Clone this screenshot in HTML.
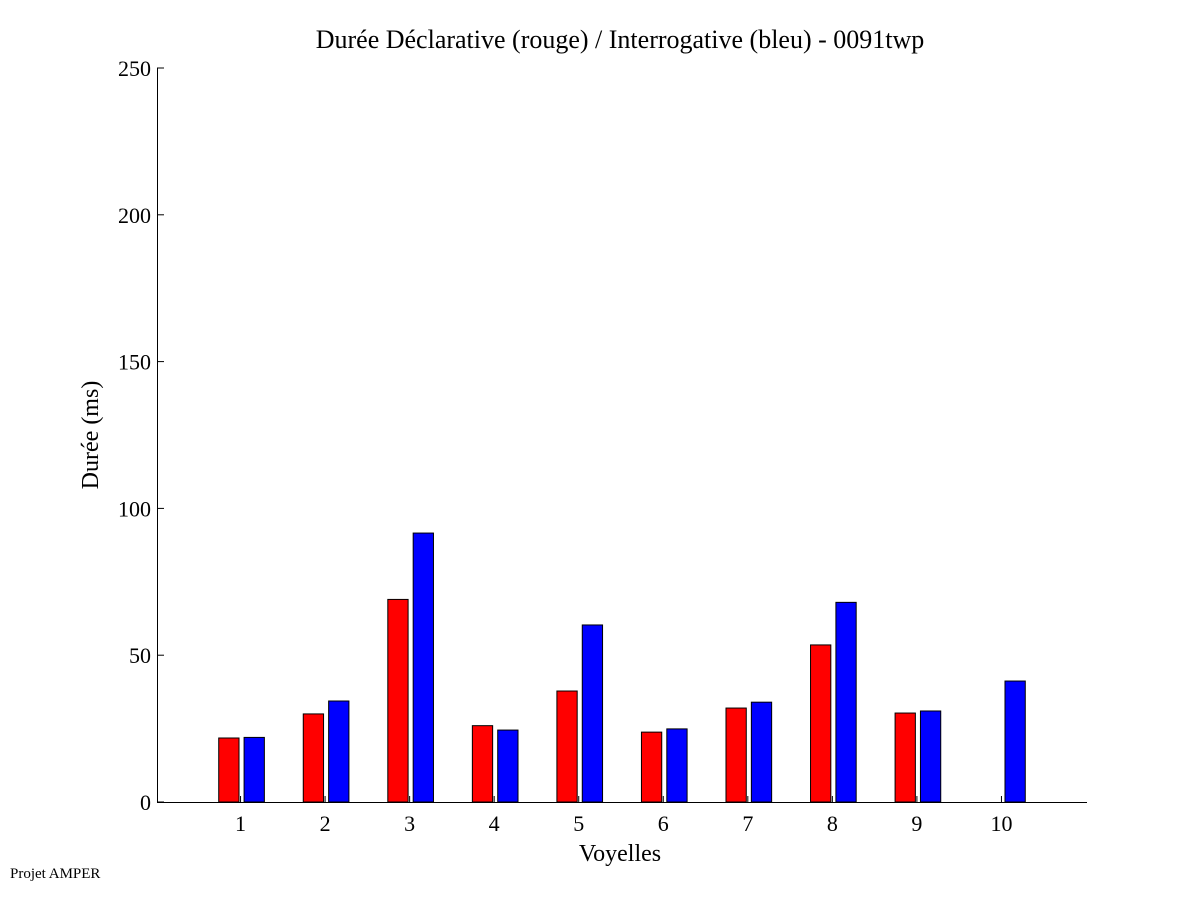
<!DOCTYPE html>
<html><head><meta charset="utf-8"><style>
html,body{margin:0;padding:0;background:#fff;}
svg text{font-family:"Liberation Serif",serif;fill:#000;}
</style></head><body>
<svg id="chart" width="1201" height="901" viewBox="0 0 1201 901" xmlns="http://www.w3.org/2000/svg">
<rect width="1201" height="901" fill="#fff"/>
<text x="620" y="48" font-size="26" text-anchor="middle">Durée Déclarative (rouge) / Interrogative (bleu) - 0091twp</text>
<text x="0" y="0" font-size="24" text-anchor="middle" transform="translate(98,435) rotate(-90)">Durée (ms)</text>
<text x="620" y="861" font-size="24" text-anchor="middle">Voyelles</text>
<text x="10" y="878" font-size="15">Projet AMPER</text>
<g id="bars"></g>
<g id="axes"></g>
</svg>
<script>
const categories = ["1","2","3","4","5","6","7","8","9","10"];
const declarativeValues = [21.8, 30, 69, 26, 37.8, 23.8, 32, 53.5, 30.3, 0];
const interrogativeValues = [22, 34.4, 91.6, 24.5, 60.3, 24.9, 34, 68, 31, 41.2];
const yTicks = [0, 50, 100, 150, 200, 250];

const NS = "http://www.w3.org/2000/svg";
const X0 = 157, X1 = 1087, Y0 = 802, Y1 = 68;
const xMin = 0, xMax = 11, yMin = 0, yMax = 250;
function xs(v){ return X0 + (v - xMin) / (xMax - xMin) * (X1 - X0); }
function ys(v){ return Y0 - (v - yMin) / (yMax - yMin) * (Y0 - Y1); }
function mk(tag, attrs){ const e = document.createElementNS(NS, tag); for (const k in attrs) e.setAttribute(k, attrs[k]); return e; }

const bars = document.getElementById("bars");
const axes = document.getElementById("axes");
const offset = 0.15, bw = 0.24;

categories.forEach((c, i) => {
  const pos = i + 1;
  const dv = declarativeValues[i];
  if (dv > 0) {
    const r = mk("rect", {x: xs(pos - offset - bw/2), y: ys(dv), width: xs(bw) - xs(0), height: ys(0) - ys(dv), fill: "#ff0000", stroke: "#000", "stroke-width": 1});
    
    
    bars.appendChild(r);
  }
  const iv = interrogativeValues[i];
  if (iv > 0) {
    const b = mk("rect", {x: xs(pos + offset - bw/2), y: ys(iv), width: xs(bw) - xs(0), height: ys(0) - ys(iv), fill: "#0000ff", stroke: "#000", "stroke-width": 1});
    
    
    bars.appendChild(b);
  }
  const t = mk("line", {x1: xs(pos) - 1, x2: xs(pos) - 1, y1: Y0, y2: Y0 - 6, stroke: "#000", "stroke-width": 1});
  
  
  axes.appendChild(t);
  const l = mk("text", {x: xs(pos) - 1, y: 831, "font-size": 22, "text-anchor": "middle"});
  l.textContent = c;
  
  
  axes.appendChild(l);
});

yTicks.forEach(v => {
  const t = mk("line", {x1: X0, x2: X0 + 7, y1: ys(v), y2: ys(v), stroke: "#000", "stroke-width": 1});
  
  
  axes.appendChild(t);
  const l = mk("text", {x: X0 - 6, y: ys(v) + 8, "font-size": 22, "text-anchor": "end"});
  l.textContent = v;
  
  
  axes.appendChild(l);
});

const xa = mk("line", {x1: X0, x2: X1, y1: Y0 + 0.5, y2: Y0 + 0.5, stroke: "#000", "stroke-width": 1});


axes.appendChild(xa);
const ya = mk("line", {x1: X0 + 0.5, x2: X0 + 0.5, y1: Y1, y2: Y0, stroke: "#000", "stroke-width": 1});


axes.appendChild(ya);
</script>
</body></html>
